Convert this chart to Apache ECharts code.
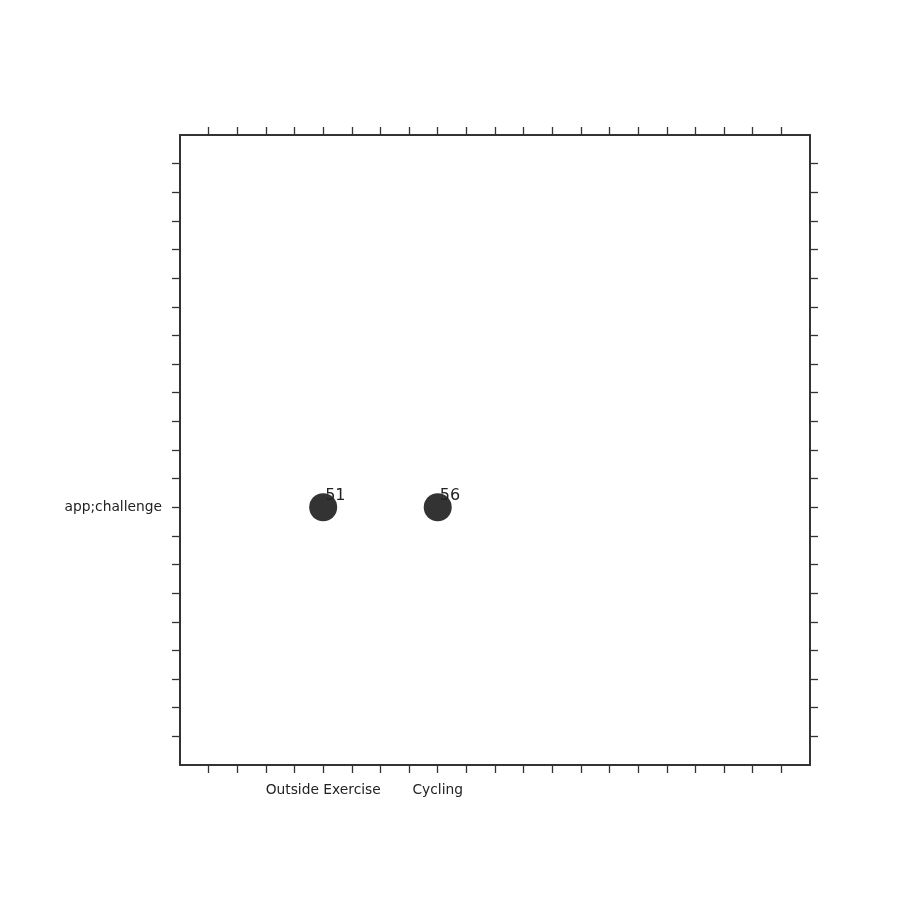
<!DOCTYPE html>
<html>
<head>
<meta charset="utf-8">
<script src="https://cdn.jsdelivr.net/npm/echarts@6/dist/echarts.min.js"></script>
<style>html,body{margin:0;padding:0;background:#fff}#c{width:900px;height:900px}</style>
</head>
<body>
<div id="c"></div>
<script>
// x slots 0..22 ; named categories at their slot positions
const xCategories = ['', '', '', '', '', 'Outside Exercise', '', '', '', 'Cycling', '', '', '', '', '', '', '', '', '', '', '', '', ''];
// y slots 0..22 from bottom
const yCategories = ['', '', '', '', '', '', '', '', '', 'app;challenge', '', '', '', '', '', '', '', '', '', '', '', '', ''];
const pointX = ['Outside Exercise', 'Cycling'];
const pointY = ['app;challenge', 'app;challenge'];
const pointValues = [51, 56];

const data = pointX.map((x, i) => [x, pointY[i], pointValues[i]]);
const axisColor = '#333';
const tickFn = (idx) => idx > 0 && idx < 22;
function xAx(pos, showLabel) {
  return {
    type: 'category', data: xCategories, position: pos, boundaryGap: false,
    axisLine: { show: true, onZero: false, lineStyle: { color: axisColor, width: 2 } },
    axisTick: { show: true, interval: tickFn, length: 8, inside: false, lineStyle: { color: axisColor, width: 1.3 } },
    axisLabel: { show: showLabel, interval: 0, margin: 18, fontFamily: 'DejaVu Sans', fontSize: 13.8, color: '#222' },
    splitLine: { show: false }
  };
}
function yAx(pos, showLabel) {
  return {
    type: 'category', data: yCategories, position: pos, boundaryGap: false,
    axisLine: { show: true, onZero: false, lineStyle: { color: axisColor, width: 2 } },
    axisTick: { show: true, interval: tickFn, length: 8, inside: false, lineStyle: { color: axisColor, width: 1.3 } },
    axisLabel: { show: showLabel, interval: 0, margin: 18, fontFamily: 'DejaVu Sans', fontSize: 13.8, color: '#222' },
    splitLine: { show: false }
  };
}
const chart = echarts.init(document.getElementById('c'), null, { renderer: 'canvas' });
chart.setOption({
  animation: false,
  backgroundColor: '#fff',
  grid: { left: 180, right: 90, top: 135, bottom: 135, containLabel: false },
  xAxis: [xAx('bottom', true), xAx('top', false)],
  yAxis: [yAx('left', true), yAx('right', false)],
  series: [{
    type: 'scatter',
    xAxisIndex: 0, yAxisIndex: 0,
    data: data,
    symbolSize: 28,
    itemStyle: { color: '#333333', opacity: 1 },
    label: {
      show: true,
      formatter: (p) => String(p.value[2]),
      position: [16, 3],
      align: 'left',
      verticalAlign: 'middle',
      fontFamily: 'DejaVu Sans',
      fontSize: 16,
      color: '#222'
    }
  }]
});
</script>
</body>
</html>
